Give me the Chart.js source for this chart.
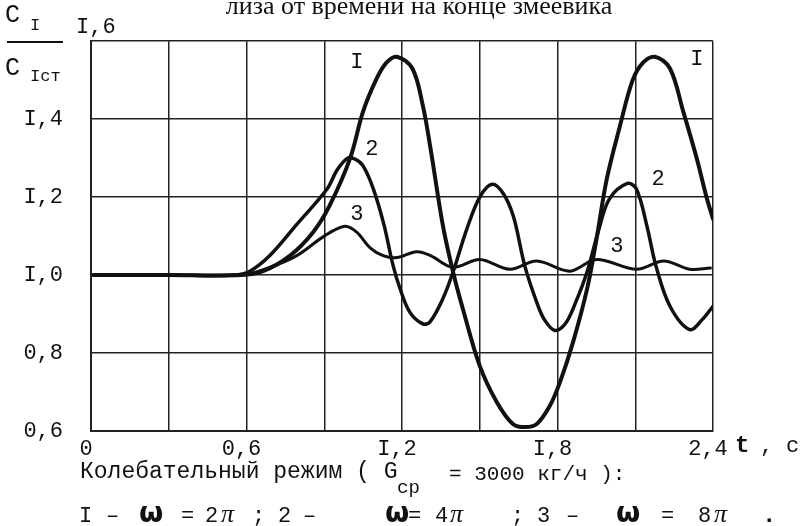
<!DOCTYPE html>
<html>
<head>
<meta charset="utf-8">
<script src="https://cdn.jsdelivr.net/npm/chart.js@4.4.0/dist/chart.umd.min.js"></script>
<style>
  body { margin: 0; background: #fff; }
  #wrap { width: 802px; height: 526px; }
</style>
</head>
<body>
<div id="wrap"><canvas id="chart" width="802" height="526"></canvas></div>
<script>
// curve 1: omega = 2pi
const t1 = [0.01, 0.3, 0.58, 0.664, 0.768, 0.857, 0.922, 1.0, 1.05, 1.103, 1.14, 1.18, 1.24, 1.28, 1.31, 1.358, 1.397, 1.435, 1.5, 1.566, 1.628, 1.674, 1.72, 1.77, 1.81, 1.86, 1.914, 1.95, 1.99, 2.04, 2.09, 2.13, 2.176, 2.234, 2.285, 2.337, 2.375, 2.4];
const v1 = [1.0, 1.0, 1.0, 1.01, 1.05, 1.11, 1.18, 1.30, 1.42, 1.505, 1.545, 1.56, 1.53, 1.436, 1.325, 1.126, 1.008, 0.913, 0.767, 0.674, 0.618, 0.61, 0.618, 0.664, 0.726, 0.828, 0.964, 1.09, 1.246, 1.38, 1.50, 1.545, 1.56, 1.53, 1.42, 1.30, 1.20, 1.144];

// curve 2: omega = 4pi
const t2 = [0.01, 0.3, 0.55, 0.613, 0.69, 0.794, 0.91, 0.95, 0.99, 1.02, 1.05, 1.09, 1.13, 1.165, 1.19, 1.23, 1.28, 1.308, 1.358, 1.397, 1.45, 1.5, 1.547, 1.59, 1.63, 1.674, 1.72, 1.75, 1.79, 1.83, 1.87, 1.914, 1.96, 2.0, 2.07, 2.105, 2.145, 2.18, 2.234, 2.31, 2.36, 2.4];
const v2 = [1.0, 1.0, 1.0, 1.01, 1.05, 1.13, 1.22, 1.27, 1.30, 1.297, 1.28, 1.22, 1.13, 1.026, 0.97, 0.905, 0.875, 0.88, 0.94, 1.008, 1.118, 1.20, 1.233, 1.21, 1.15, 1.023, 0.93, 0.885, 0.858, 0.875, 0.93, 1.008, 1.118, 1.195, 1.235, 1.22, 1.126, 1.023, 0.92, 0.86, 0.887, 0.92];

// curve 3: omega = 8pi
const t3 = [0.01, 0.3, 0.58, 0.69, 0.794, 0.9, 0.98, 1.025, 1.077, 1.127, 1.18, 1.257, 1.31, 1.397, 1.5, 1.616, 1.72, 1.848, 1.95, 2.105, 2.21, 2.31, 2.39];
const v3 = [1.0, 1.0, 1.0, 1.02, 1.05, 1.10, 1.125, 1.11, 1.07, 1.05, 1.045, 1.06, 1.05, 1.02, 1.04, 1.015, 1.036, 1.01, 1.04, 1.015, 1.036, 1.015, 1.018];

const xTickLabels = ['0', '0,6', 'I,2', 'I,8', '2,4'];
const yTickLabels = ['0,6', '0,8', 'I,0', 'I,2', 'I,4', 'I,6'];

// curve labels, in data coordinates
const curveLabels = [
  { text: 'I', t: 1.026, v: 1.546 },
  { text: 'I', t: 2.338, v: 1.554 },
  { text: '2', t: 1.084, v: 1.323 },
  { text: '2', t: 2.188, v: 1.246 },
  { text: '3', t: 1.026, v: 1.156 },
  { text: '3', t: 2.029, v: 1.074 }
];

const ink = '#111';
const mono = '"Liberation Mono", monospace';

function pts(ts, vs) {
  return ts.map((t, i) => ({ x: t, y: vs[i] }));
}

const annotations = {
  id: 'annotations',
  afterDraw(chart) {
    const ctx = chart.ctx;
    const xs = chart.scales.x, ys = chart.scales.y;
    ctx.save();
    ctx.fillStyle = ink;
    ctx.strokeStyle = ink;

    // caption cut off at the top
    ctx.font = '26px "Liberation Serif", serif';
    ctx.textAlign = 'center';
    ctx.textBaseline = 'alphabetic';
    ctx.fillText('лиза от времени на конце змеевика', 419, 14);

    // y axis label C_I / C_Icт
    ctx.textAlign = 'left';
    ctx.font = '25px ' + mono;
    ctx.fillText('C', 5, 22);
    ctx.fillText('C', 5, 75);
    ctx.font = '17px ' + mono;
    ctx.fillText('I', 30, 30);
    ctx.fillText('Icт', 30, 81);
    ctx.lineWidth = 2;
    ctx.beginPath();
    ctx.moveTo(7, 42);
    ctx.lineTo(63, 42);
    ctx.stroke();

    // top y tick sits above the plot
    ctx.font = '22px ' + mono;
    ctx.fillText(yTickLabels[yTickLabels.length - 1], 76, 33);

    // x unit
    ctx.font = 'bold 24px ' + mono;
    ctx.fillText('t', 735, 452);
    ctx.font = '22px ' + mono;
    ctx.fillText(',', 760, 452);
    ctx.fillText('c', 786, 452);

    // curve labels
    ctx.textAlign = 'center';
    ctx.textBaseline = 'middle';
    ctx.font = '22px ' + mono;
    curveLabels.forEach(l => {
      ctx.fillText(l.text, xs.getPixelForValue(l.t), ys.getPixelForValue(l.v));
    });

    // footnote
    ctx.textAlign = 'left';
    ctx.textBaseline = 'alphabetic';
    ctx.font = '23px ' + mono;
    ctx.fillText('Колебательный режим ( G', 80, 478);
    ctx.font = '19px ' + mono;
    ctx.fillText('cp', 397, 493);
    ctx.font = '21px ' + mono;
    ctx.fillText('= 3000 кг/ч ):', 449, 480);

    const omega = 'bold 28px "DejaVu Sans", sans-serif';
    const pi = 'italic 26px "Liberation Serif", serif';
    const m = '22px ' + mono;
    const line2 = [
      ['I', 79, m], ['–', 106, m], ['ω', 139, omega], ['=', 181, m], ['2', 205, m], ['π', 221, pi],
      [';', 252, m], ['2', 278, m], ['–', 303, m], ['ω', 385, omega], ['=', 408, m], ['4', 435, m], ['π', 450, pi],
      [';', 511, m], ['3', 537, m], ['–', 566, m], ['ω', 616, omega], ['=', 661, m], ['8', 698, m], ['π', 714, pi],
      ['.', 762, 'bold 24px ' + mono]
    ];
    line2.forEach(([s, x, f]) => {
      ctx.font = f;
      ctx.fillText(s, x, 522);
    });
    ctx.restore();
  }
};

new Chart(document.getElementById('chart'), {
  type: 'line',
  data: {
    datasets: [
      { label: '1', data: pts(t1, v1), borderColor: ink, borderWidth: 4 },
      { label: '2', data: pts(t2, v2), borderColor: ink, borderWidth: 3.5 },
      { label: '3', data: pts(t3, v3), borderColor: ink, borderWidth: 3 }
    ]
  },
  plugins: [annotations],
  options: {
    responsive: false,
    animation: false,
    events: [],
    parsing: false,
    elements: {
      point: { radius: 0 },
      line: { tension: 0.35, fill: false, borderCapStyle: 'round', borderJoinStyle: 'round' }
    },
    layout: { padding: { top: 41, right: 89, left: 0, bottom: 0 } },
    scales: {
      x: {
        type: 'linear',
        min: 0,
        max: 2.4,
        afterFit: (s) => { s.height = 95; },
        ticks: {
          stepSize: 0.3,
          autoSkip: false,
          maxRotation: 0,
          padding: 5,
          labelOffset: -5,
          color: ink,
          font: { family: 'Liberation Mono', size: 22 },
          callback: (v, i) => (i % 2 === 0 ? xTickLabels[i / 2] : '')
        },
        grid: { color: '#222', lineWidth: 1.5, drawTicks: false },
        border: { color: '#222', width: 2 }
      },
      y: {
        min: 0.6,
        max: 1.6,
        afterFit: (s) => { s.width = 91; },
        ticks: {
          stepSize: 0.2,
          padding: 28,
          color: ink,
          font: { family: 'Liberation Mono', size: 22 },
          callback: (v, i) => (i === yTickLabels.length - 1 ? '' : yTickLabels[i])
        },
        grid: { color: '#222', lineWidth: 1.5, drawTicks: false },
        border: { color: '#222', width: 2 }
      }
    },
    plugins: {
      legend: { display: false },
      tooltip: { enabled: false },
      title: { display: false }
    }
  }
});
</script>
</body>
</html>
